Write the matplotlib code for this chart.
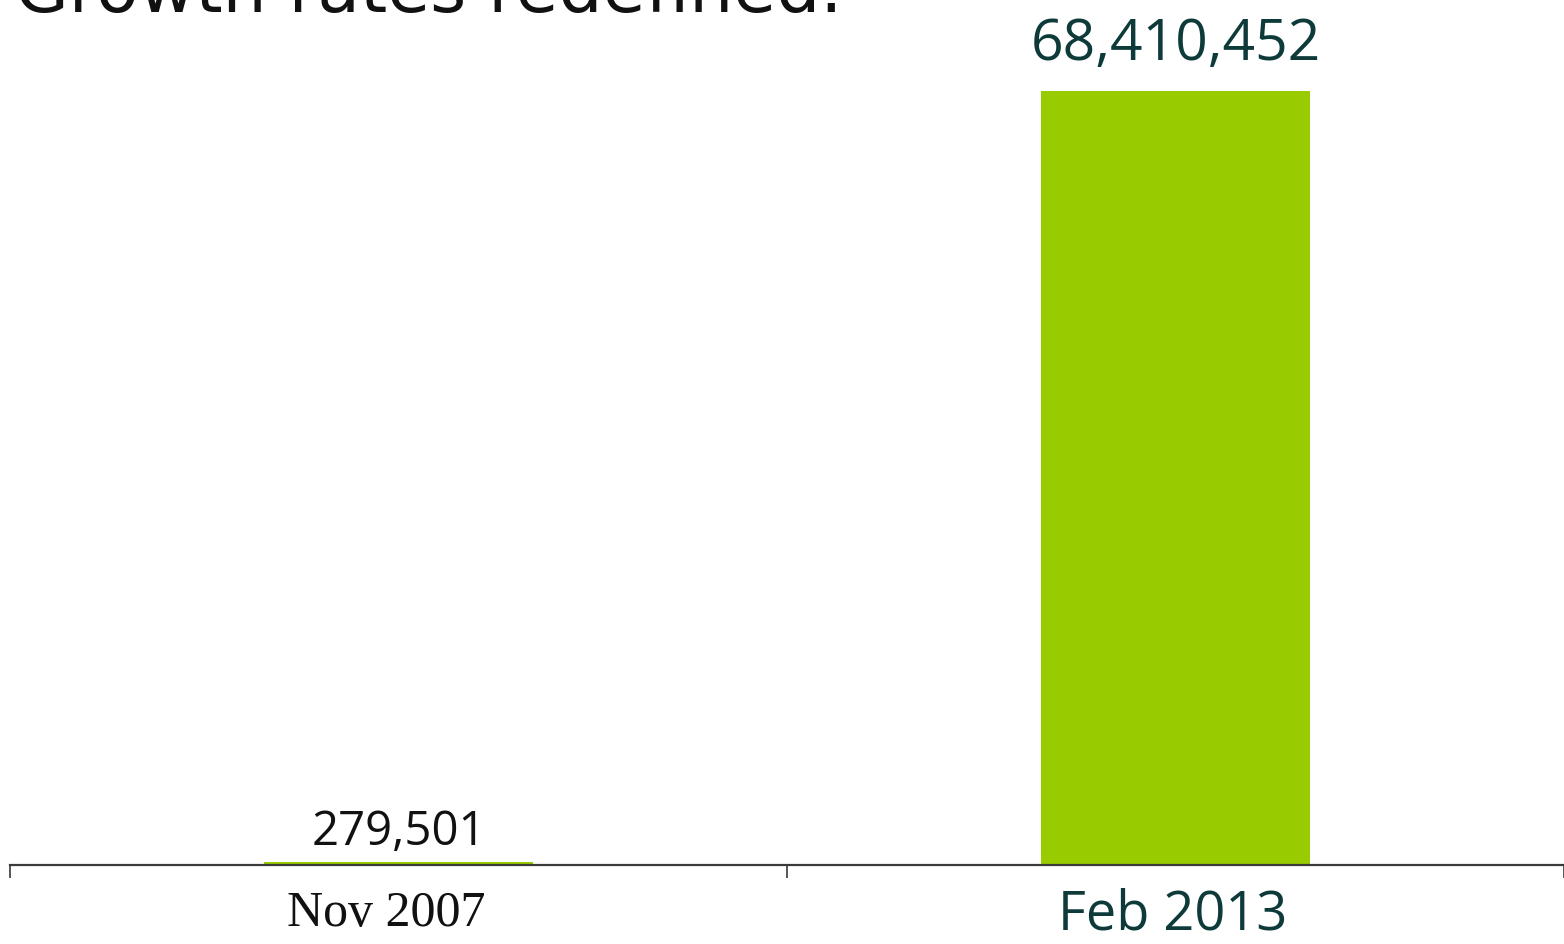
import numpy as np
import matplotlib.pyplot as plt

categories = ["Nov 2007", "Feb 2013"]
values = [279501, 68410452]
value_labels = ["279,501", "68,410,452"]

W, H = 1564, 945
fig = plt.figure(figsize=(W / 100, H / 100), dpi=100)
ax = fig.add_axes([10 / W, 79 / H, 1554 / W, 866 / H])

x = np.arange(len(categories))
ax.bar(x, values, width=0.345, color="#99cc00", linewidth=0, zorder=2)

ax.set_xlim(-0.5, 1.5)
ax.set_ylim(0, 68410452 * 866 / 774)

for s in ["top", "right", "left"]:
    ax.spines[s].set_visible(False)
ax.spines["bottom"].set_color("#3a3a3a")
ax.spines["bottom"].set_linewidth(1.6)
ax.set_yticks([])

# category tick marks between groups, labels under bars
ax.set_xticks([-0.5, 0.5, 1.5], minor=True)
ax.tick_params(axis="x", which="minor", length=9, width=1.2, color="#3a3a3a", direction="out")
ax.set_xticks(x)
ax.set_xticklabels([])
ax.tick_params(axis="x", which="major", length=0)

# x labels (different fonts like the original slide)
ax.annotate(categories[0], (0, 0), xycoords=("data", "axes fraction"),
            xytext=(-9, -43), textcoords="offset points",
            ha="center", va="baseline", fontsize=36, family="Liberation Serif", color="#111111")
ax.annotate(categories[1], (1, 0), xycoords=("data", "axes fraction"),
            xytext=(-2, -46), textcoords="offset points",
            ha="center", va="baseline", fontsize=39, family="Open Sans", color="#0e3b3a")

# value labels above bars
ax.annotate(value_labels[0], (0, values[0]), xytext=(0, 13), textcoords="offset points",
            ha="center", va="baseline", fontsize=34, family="Open Sans", color="#111111")
ax.annotate(value_labels[1], (1, values[1]), xytext=(0, 23), textcoords="offset points",
            ha="center", va="baseline", fontsize=41, family="Open Sans", color="#0e3b3a")

# slide title, cut off by top edge as in the original
fig.text(15 / W, 1 - 12 / H, "Growth rates redefined.", ha="left", va="baseline",
         fontsize=50, family="DejaVu Sans", color="#111111")

fig.savefig("out.png", dpi=100)
